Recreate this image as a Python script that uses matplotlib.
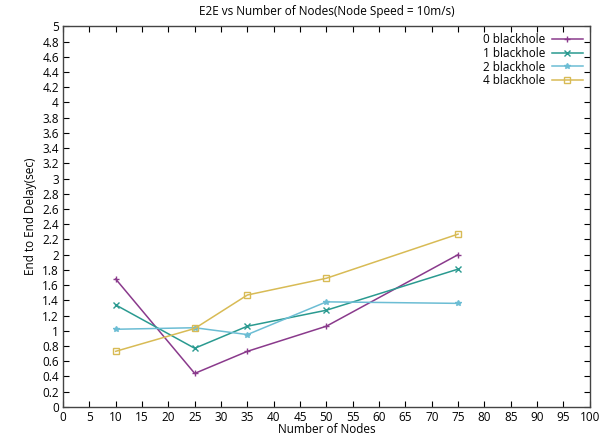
import matplotlib
matplotlib.use("Agg")
import matplotlib.pyplot as plt
import numpy as np

# data
nodes = [10, 25, 35, 50, 75]
bh0 = [1.68, 0.44, 0.73, 1.06, 2.00]
bh1 = [1.34, 0.77, 1.06, 1.27, 1.81]
bh2 = [1.02, 1.04, 0.95, 1.38, 1.36]
bh4 = [0.73, 1.03, 1.47, 1.69, 2.27]
labels = ['0 blackhole', '1 blackhole', '2 blackhole', '4 blackhole']

plt.rcParams['font.family'] = ['Open Sans', 'DejaVu Sans']

fig = plt.figure(figsize=(6, 4.38), dpi=100)
ax = fig.add_axes([0.105, 0.071, 0.878, 0.869])

ax.plot(nodes, bh0, color='#8a3a8c', marker='+', ms=4.5, lw=1.1, label=labels[0])
ax.plot(nodes, bh1, color='#2a9a90', marker='x', ms=4.5, lw=1.1, label=labels[1])
ax.plot(nodes, bh2, color='#6cbdd4', marker='*', ms=4, lw=1.1, label=labels[2])
ax.plot(nodes, bh4, color='#d8bb55', marker='s', ms=4.5, mfc='none', lw=1.1, label=labels[3])

ax.set_xlim(0, 100)
ax.set_ylim(0, 5)
ax.set_xticks(np.arange(0, 101, 5))
yt = np.round(np.arange(0, 5.01, 0.2), 1)
ax.set_yticks(yt)
ax.set_yticklabels(['%g' % v for v in yt])
ax.tick_params(direction='in', top=True, right=True, labelsize=8.5, length=4, pad=3)
for s in ax.spines.values():
    s.set_color('#444444')
    s.set_linewidth(1.0)

ax.set_title('E2E vs Number of Nodes(Node Speed = 10m/s)', fontsize=8.5, pad=8)
ax.set_xlabel('Number of Nodes', fontsize=8.5, labelpad=-1)
ax.set_ylabel('End to End Delay(sec)', fontsize=8.5, labelpad=4)

ax.legend(loc='upper right', frameon=False, markerfirst=False, fontsize=8.5,
          handlelength=2.6, labelspacing=0.05, borderaxespad=0.2, handletextpad=0.6)

fig.savefig('out.png', dpi=100)
